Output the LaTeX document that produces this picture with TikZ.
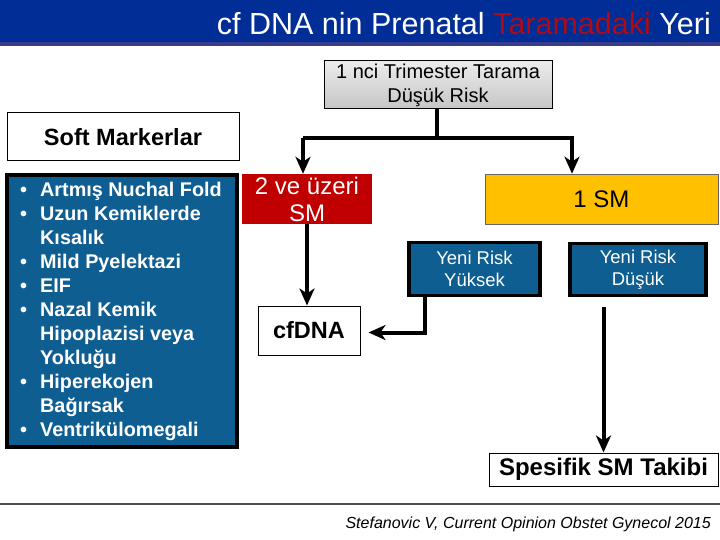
\documentclass[tikz,border=0pt]{standalone}
\usepackage{fontspec}
\setmainfont{Liberation Sans}
\usetikzlibrary{arrows.meta}
\definecolor{barblue}{RGB}{0,45,150}
\definecolor{baredge}{RGB}{55,60,140}
\definecolor{boxblue}{RGB}{14,94,146}
\definecolor{titlered}{RGB}{176,10,20}
\definecolor{sred}{RGB}{192,0,0}
\definecolor{syellow}{RGB}{255,192,0}
\tikzset{
  whitebox/.style={draw=black, line width=1pt, fill=white, inner sep=0pt, align=center},
  bluebox/.style={draw=black, line width=3.5pt, fill=boxblue, text=white, inner sep=0pt, align=center},
  conn/.style={line width=4pt},
  arr/.style={line width=4pt, -{Stealth[length=17pt, width=15pt, inset=5pt]}}
}
\begin{document}
\begin{tikzpicture}[x=1pt, y=-1pt]
  \useasboundingbox (0,0) rectangle (720,540);
  % 1. Başlık şeridi
  \fill[barblue] (0,0) rectangle (720,44);
  \fill[baredge] (0,42.5) rectangle (720,46);
  \node[anchor=base east, text=white, inner sep=0pt, font=\fontsize{30.5}{34}\selectfont] (title) at (711,35)
    {cf DNA nin Prenatal \textcolor{titlered}{Taramadaki} Yeri};

  % 2. Kutular
  \node[draw=black, line width=1pt, top color=gray!15, bottom color=gray!45, inner sep=0pt, align=center,
        minimum width=228pt, minimum height=48pt, font=\fontsize{20}{24}\selectfont] (top) at (438,85)
    {1 nci Trimester Tarama\\Düşük Risk};
  \node[whitebox, minimum width=232pt, minimum height=48pt, font=\bfseries\fontsize{23.5}{26}\selectfont] (soft) at (123,137)
    {Soft Markerlar};
  \node[bluebox, minimum width=230pt, minimum height=272pt] (list) at (122,311) {};
  \node[anchor=north west, inner sep=0pt, text=white, font=\bfseries\fontsize{19.8}{24}\selectfont] (items) at (20,179)
    {\begin{tabular}{@{}p{20pt}@{}l@{}}
      • & Artmış Nuchal Fold\\
      • & Uzun Kemiklerde\\
        & Kısalık\\
      • & Mild Pyelektazi\\
      • & EIF\\
      • & Nazal Kemik\\
        & Hipoplazisi veya\\
        & Yokluğu\\
      • & Hiperekojen\\
        & Bağırsak\\
      • & Ventrikülomegali
    \end{tabular}};
  \node[fill=sred, text=white, inner sep=0pt, align=center, minimum width=130pt, minimum height=50pt,
        font=\fontsize{24}{27}\selectfont] (red) at (307,199) {2 ve üzeri\\SM};
  \node[draw=black!60, line width=0.6pt, fill=syellow, inner sep=0pt, minimum width=233pt, minimum height=50pt,
        font=\fontsize{24}{27}\selectfont] (yellow) at (601.5,199) {1 SM};
  \node[bluebox, minimum width=131pt, minimum height=53pt, font=\fontsize{18.5}{22}\selectfont] (yuksek) at (474.5,269)
    {Yeni Risk\\Yüksek};
  \node[bluebox, minimum width=136pt, minimum height=52pt, font=\fontsize{18.5}{22}\selectfont] (dusuk) at (638,269.5)
    {Yeni Risk\\Düşük};
  \node[whitebox, minimum width=102pt, minimum height=49pt, font=\bfseries\fontsize{23.5}{26}\selectfont] (cfdna) at (309,330.5)
    {cfDNA};
  \node[whitebox, minimum width=229pt, minimum height=33pt, font=\bfseries\fontsize{24}{26}\selectfont] (spes) at (603.5,469.5)
    {Spesifik SM Takibi};

  % 3. Oklar
  \coordinate (split) at (437,138);
  \draw[conn] (top.south -| split) -- (split);
  \draw[arr] ([xshift=-134pt]split) -- (split) -| ([xshift=135pt]split) -- ([xshift=135pt]split |- yellow.north);
  \draw[arr] ([xshift=-134pt]split) -- ([xshift=-134pt]split |- red.north);
  \draw[arr] (red.south) -- (red.south |- cfdna.north);
  \draw[arr] ([xshift=-49.5pt]yuksek.south) |- ([xshift=8pt, yshift=-2pt]cfdna.east);
  \draw[arr] ([yshift=-10pt]dusuk.south -| spes.north) -- (spes.north);

  % 4. Kaynak
  \draw[line width=1.2pt, black!70] (0,504) -- (720,504);
  \node[anchor=base east, inner sep=0pt, font=\itshape\fontsize{16}{18}\selectfont] (cite) at (711,528)
    {Stefanovic V, Current Opinion Obstet Gynecol 2015};
\end{tikzpicture}
\end{document}
